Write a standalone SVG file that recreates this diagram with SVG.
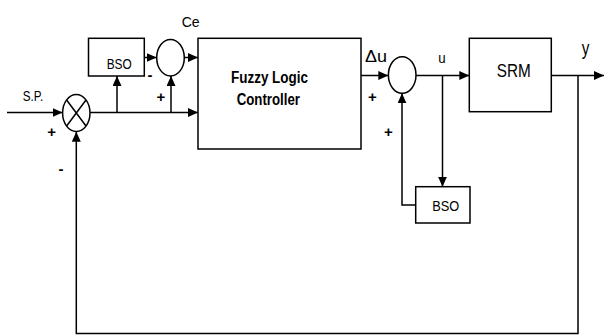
<svg xmlns="http://www.w3.org/2000/svg" width="604" height="335" viewBox="0 0 604 335">
<style>
.box{fill:#fff;stroke:#000;stroke-width:1.5}
.ln{fill:none;stroke:#000;stroke-width:1.5}
.t{font-family:"Liberation Sans",Arial,sans-serif;fill:#000}
.b{font-weight:bold}
.s{font-family:"Liberation Sans",Arial,sans-serif;font-weight:bold;font-size:15px;text-anchor:middle;fill:#000}
</style>
<defs>
<marker id="ah" markerUnits="userSpaceOnUse" markerWidth="11" markerHeight="10" refX="10" refY="4.5" orient="auto">
<path d="M0,0 L10,4.5 L0,9 z" fill="#000"/>
</marker>
</defs>
<rect width="604" height="335" fill="#fff"/>
<g id="connectors">
<path class="ln" d="M7,112.5 H62.5" marker-end="url(#ah)"/>
<path class="ln" d="M90,112.5 H198" marker-end="url(#ah)"/>
<path class="ln" d="M117,112.5 V76" marker-end="url(#ah)"/>
<path class="ln" d="M171,112.5 V76" marker-end="url(#ah)"/>
<path class="ln" d="M144.3,57.5 H156.7" marker-end="url(#ah)"/>
<path class="ln" d="M184.3,57.5 H198" marker-end="url(#ah)"/>
<path class="ln" d="M361,75.5 H388.3" marker-end="url(#ah)"/>
<path class="ln" d="M416,75.5 H469.3" marker-end="url(#ah)"/>
<path class="ln" d="M442.5,75.5 V186.7" marker-end="url(#ah)"/>
<path class="ln" d="M415.7,205 H402 V93.3" marker-end="url(#ah)"/>
<path class="ln" d="M551.3,75.5 H604" marker-end="url(#ah)"/>
<path class="ln" d="M578,75.5 V333.5 H76.3 V131.7" marker-end="url(#ah)"/>
</g>
<g id="sum-main">
<ellipse class="box" cx="76.3" cy="113" rx="13.7" ry="18.5"/>
<path class="ln" d="M66.6,100 L86,126 M86,100 L66.6,126"/>
<text class="t" x="22.7" y="100.7" font-size="14.5" textLength="20.5" lengthAdjust="spacingAndGlyphs">S.P.</text>
<text class="s" x="51.7" y="137">+</text>
<text class="s" x="61" y="174">-</text>
</g>
<g id="bso1">
<rect class="box" x="88.5" y="38.3" width="55.8" height="37.7"/>
<text class="t" x="106.7" y="69" font-size="15" textLength="25" lengthAdjust="spacingAndGlyphs">BSO</text>
</g>
<g id="sum-ce">
<ellipse class="box" cx="170.5" cy="57.7" rx="13.8" ry="18.3"/>
<text class="t" x="181.7" y="26.5" font-size="15.5" textLength="18" lengthAdjust="spacingAndGlyphs">Ce</text>
<text class="s" x="150" y="80">-</text>
<text class="s" x="161" y="101.5">+</text>
</g>
<g id="flc">
<rect class="box" x="198" y="38.3" width="163" height="110.7"/>
<text class="t b" x="231" y="83.3" font-size="16" textLength="77" lengthAdjust="spacingAndGlyphs">Fuzzy Logic</text>
<text class="t b" x="236.7" y="105" font-size="16" textLength="63.3" lengthAdjust="spacingAndGlyphs">Controller</text>
</g>
<g id="sum-u">
<ellipse class="box" cx="402.2" cy="75" rx="13.8" ry="18.3"/>
<text class="t" x="365" y="62" font-size="16" textLength="22" lengthAdjust="spacingAndGlyphs">Δu</text>
<text class="t" x="438.3" y="63" font-size="15" textLength="7.4" lengthAdjust="spacingAndGlyphs">u</text>
<text class="s" x="372.3" y="101.5">+</text>
<text class="s" x="388.3" y="137">+</text>
</g>
<g id="bso2">
<rect class="box" x="415.7" y="186.7" width="54.3" height="36.3"/>
<text class="t" x="432.3" y="210.5" font-size="15" textLength="27" lengthAdjust="spacingAndGlyphs">BSO</text>
</g>
<g id="srm">
<rect class="box" x="469.3" y="38.3" width="82" height="73.4"/>
<text class="t" x="496.7" y="76.7" font-size="18" textLength="34" lengthAdjust="spacingAndGlyphs">SRM</text>
<text class="t" x="581.7" y="55" font-size="20" textLength="7.6" lengthAdjust="spacingAndGlyphs">y</text>
</g>
</svg>
